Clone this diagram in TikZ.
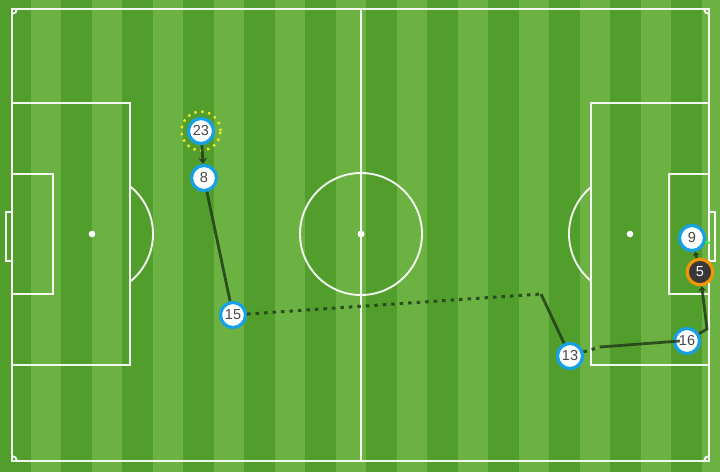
\documentclass[tikz,border=0pt]{standalone}
\usepackage{fontspec}
\setmainfont{Liberation Sans}
\usetikzlibrary{arrows.meta}
\definecolor{grassdark}{RGB}{82,158,44}
\definecolor{grasslight}{RGB}{107,178,66}
\definecolor{ringblue}{RGB}{22,160,230}
\definecolor{ringorange}{RGB}{240,150,10}
\definecolor{passgreen}{RGB}{34,60,24}
\definecolor{markyellow}{RGB}{232,232,40}
\definecolor{shotgreen}{RGB}{70,235,70}
\tikzstyle{pitch} = [draw=white, line width=1.9pt, opacity=0.92]
\tikzstyle{player} = [circle, draw=ringblue, line width=3.2pt, fill=white, text=black!72, minimum size=25pt, inner sep=0pt, font=\fontsize{14.5}{14.5}\selectfont]
\tikzstyle{scorer} = [player, draw=ringorange, fill=black!78, text=white, minimum size=25.5pt]
\tikzstyle{pass} = [draw=passgreen, line width=2.8pt, opacity=0.85]
\tikzstyle{carry} = [draw=passgreen, line width=3pt, dash pattern=on 3.5pt off 5pt, opacity=0.85]

\begin{document}
\begin{tikzpicture}[x=1pt, y=-1pt]
	\useasboundingbox (0,0) rectangle (720,472);
	% grass
	\fill[grasslight] (0,0) rectangle (720,472);
	\foreach \k in {0,...,11}
		\fill[grassdark] (61*\k,0) rectangle (61*\k+30.5,472);
	% pitch markings
	\draw[pitch] (12,9) rectangle (709,461);
	\draw[pitch] (361,9) -- (361,461);
	\draw[pitch] (361,234) circle (61pt);
	\draw[pitch] (12,103) rectangle (130,365);
	\draw[pitch] (591,103) rectangle (709,365);
	\draw[pitch] (12,174) rectangle (53,294);
	\draw[pitch] (669,174) rectangle (709,294);
	\draw[pitch] (6,212) rectangle (12,261);
	\draw[pitch] (709,212) rectangle (715,261);
	\draw[pitch] (130,186.3) arc[start angle=51.5, end angle=-51.5, radius=61pt];
	\draw[pitch] (591,187.1) arc[start angle=129.7, end angle=230.3, radius=61pt];
	\draw[pitch] (17,9) arc[start angle=0, end angle=-90, radius=5pt];
	\draw[pitch] (704,9) arc[start angle=180, end angle=270, radius=5pt];
	\draw[pitch] (17,461) arc[start angle=0, end angle=90, radius=5pt];
	\draw[pitch] (704,461) arc[start angle=180, end angle=90, radius=5pt];
	\fill[white] (92,234) circle (3.3pt) (630,234) circle (3.3pt) (361,234) circle (3.5pt);
	% turning points
	\coordinate (c15) at (541,294);
	\coordinate (c13) at (600,347);
	\coordinate (c16) at (707,329);
	\coordinate (goal) at (710,243);
	% players
	\node[player] (p23) at (201,131) {23};
	\node[player] (p8) at (204,178) {8};
	\node[player] (p15) at (233,315) {15};
	\node[player] (p13) at (570,356) {13};
	\node[player] (p16) at (687,341) {16};
	\node[player] (p9) at (692,238) {9};
	\node[scorer] (p5) at (700,272) {5};
	\node[circle, draw=markyellow, line width=2.4pt, dash pattern=on 2.4pt off 4.6pt, minimum size=39pt] (mark23) at (p23) {};
	% moves
	\path[pass, -{Stealth[length=6pt, width=9pt]}] (p23) -- (p8);
	\path[pass] (p8) -- (p15);
	\path[carry] (p15) -- (c15);
	\path[pass] (c15) -- (p13);
	\path[carry] (p13) -- (c13);
	\path[pass] (c13) -- ([xshift=-7pt]p16.center);
	\path[pass, -{Stealth[length=5pt, width=8pt]}] (p16) -- (c16) -- (p5);
	\path[pass, -{Stealth[length=4pt, width=7pt]}] (p5) -- (p9);
	\path[draw=shotgreen, line width=2pt] (p9) -- (goal);
\end{tikzpicture}
\end{document}
